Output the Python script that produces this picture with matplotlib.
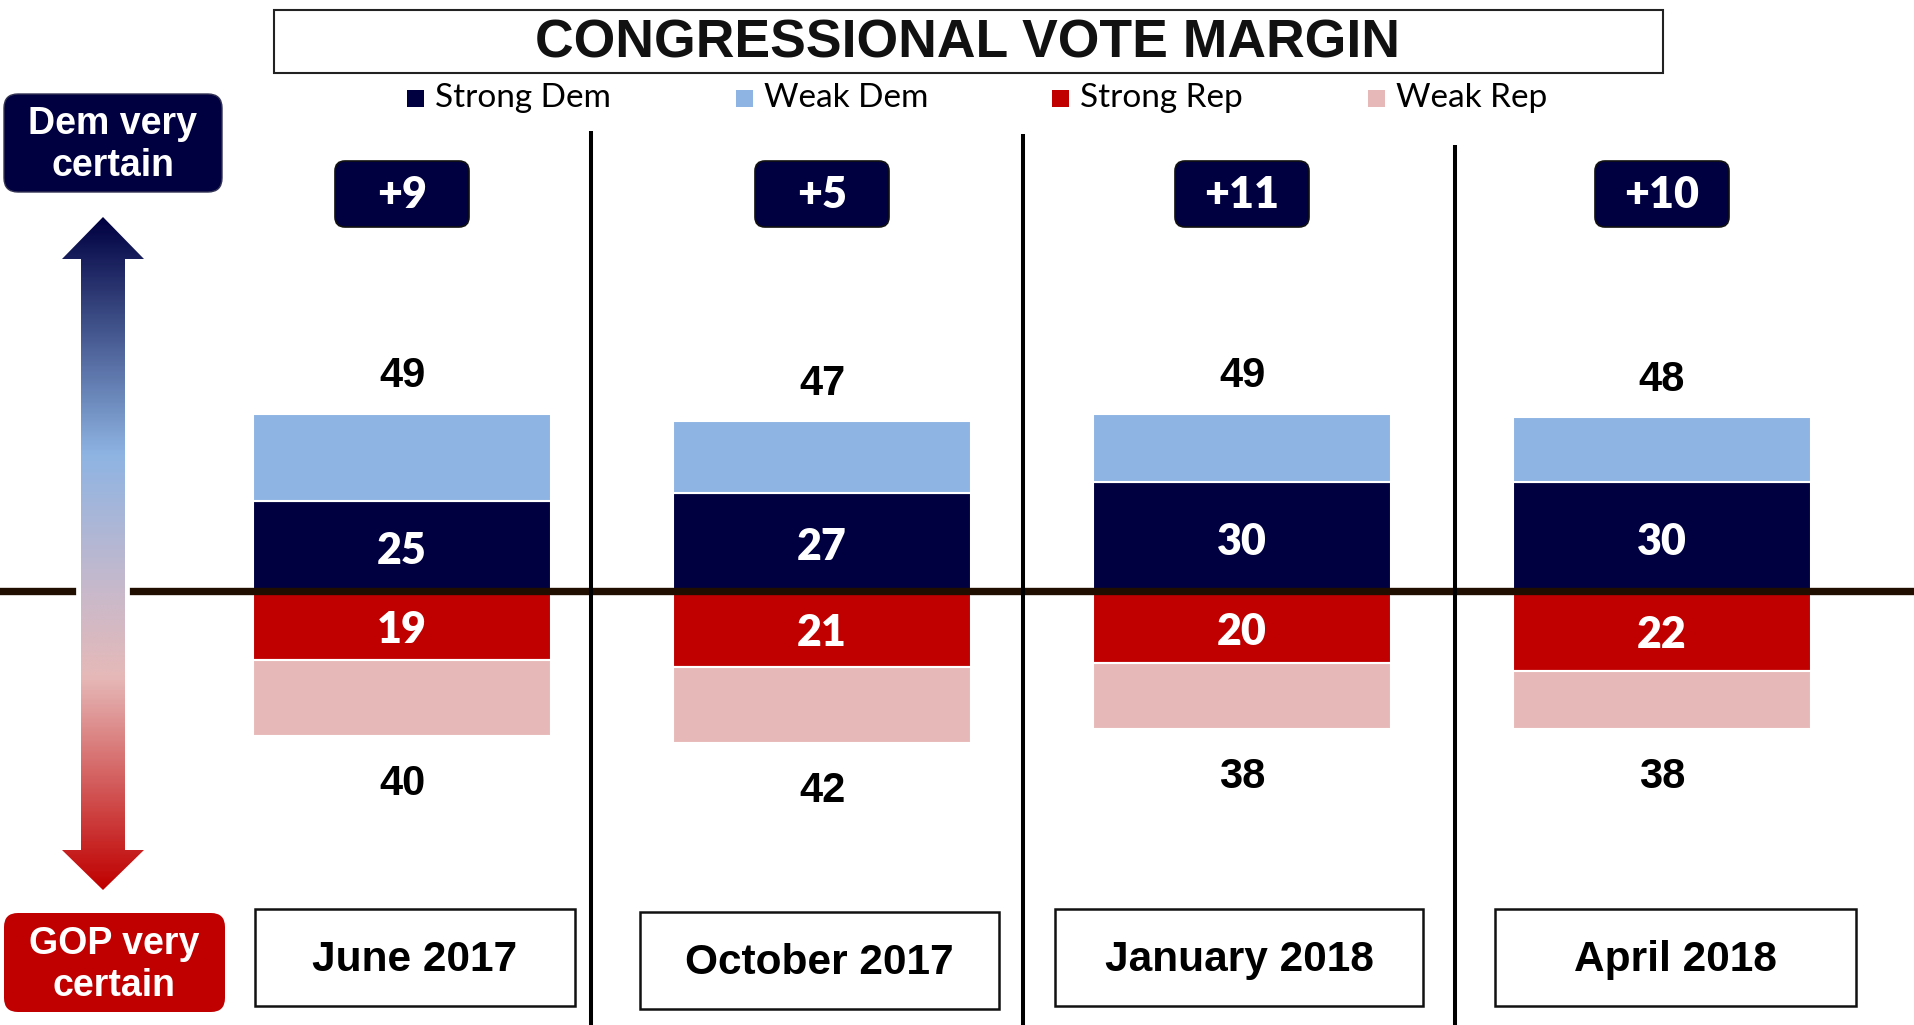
import numpy as np
import matplotlib
matplotlib.use("Agg")
import matplotlib.pyplot as plt
from matplotlib.patches import Rectangle, FancyBboxPatch, Polygon
from matplotlib.colors import LinearSegmentedColormap

# ---------------- data ----------------
periods = ["June 2017", "October 2017", "January 2018", "April 2018"]
strong_dem = [25, 27, 30, 30]
weak_dem = [24, 20, 19, 18]
dem_total = [49, 47, 49, 48]
strong_rep = [19, 21, 20, 22]
weak_rep = [21, 21, 18, 16]
rep_total = [40, 42, 38, 38]
margins = ["+9", "+5", "+11", "+10"]
legend_labels = ["Strong Dem", "Weak Dem", "Strong Rep", "Weak Rep"]
title = "CONGRESSIONAL VOTE MARGIN"
dem_label = "Dem very\ncertain"
gop_label = "GOP very\ncertain"

# ---------------- style ----------------
C_SD, C_WD, C_SR, C_WR = "#000040", "#8EB4E3", "#C00000", "#E6B9B8"
colors = [C_SD, C_WD, C_SR, C_WR]
ARIAL = ["Liberation Sans", "DejaVu Sans"]
CALIBRI = ["Lato", "DejaVu Sans"]

W, H = 1915, 1025
fig = plt.figure(figsize=(W / 100, H / 100), dpi=100)

# main axes: bars in data units
PX = 3.62      # pixels per percentage point
ZERO = 591     # pixel row of zero line
X0, STEP = 402, 420
ax = fig.add_axes([0, 0, 1, 1])
x = np.arange(len(periods))
bw = 298 / STEP
sd = np.array(strong_dem); wd = np.array(weak_dem)
sr = np.array(strong_rep); wr = np.array(weak_rep)
ax.bar(x, sd, width=bw, color=C_SD, edgecolor="white", linewidth=1.5, zorder=2)
ax.bar(x, wd, bottom=sd, width=bw, color=C_WD, edgecolor="white", linewidth=1.5, zorder=2)
ax.bar(x, -sr, width=bw, color=C_SR, edgecolor="white", linewidth=1.5, zorder=2)
ax.bar(x, -wr, bottom=-sr, width=bw, color=C_WR, edgecolor="white", linewidth=1.5, zorder=2)
ax.set_xlim((0 - X0) / STEP, (W - X0) / STEP)
ax.set_ylim(-(H - ZERO) / PX, ZERO / PX)
ax.axis("off")
ax.axhline(0, color="#200F00", lw=5.3, zorder=5)

for i in range(len(periods)):
    ax.text(i, sd[i] / 2 - 1.4, str(sd[i]), ha="center", va="center", color="white",
            family=CALIBRI, weight="heavy", fontsize=31, zorder=6)
    ax.text(i, -sr[i] / 2 - 1.2, str(sr[i]), ha="center", va="center", color="white",
            family=CALIBRI, weight="heavy", fontsize=31, zorder=6)
    ax.text(i, dem_total[i] + 10.3, str(dem_total[i]), ha="center", va="center",
            color="black", family=ARIAL, weight="bold", fontsize=30, zorder=6)
    ax.text(i, -(rep_total[i] + 13.3), str(rep_total[i]), ha="center", va="center",
            color="black", family=ARIAL, weight="bold", fontsize=30, zorder=6)

# overlay axes in pixel coordinates for decorations
ov = fig.add_axes([0, 0, 1, 1], zorder=10)
ov.set_xlim(0, W)
ov.set_ylim(H, 0)
ov.axis("off")

# title
ov.add_patch(Rectangle((274, 10), 1389, 63, fill=False, edgecolor="#222222", lw=1.5))
ov.text(968, 44, title, ha="center", va="center", family=ARIAL, weight="bold",
        fontsize=38.5, color="#111111")

# legend
leg_x = [407, 736, 1052, 1368]
for lx, lab, c in zip(leg_x, legend_labels, colors):
    ov.add_patch(Rectangle((lx, 98 - 8.5), 17, 17, facecolor=c, edgecolor="none"))
    ov.text(lx + 28, 98, lab, ha="left", va="center", family=CALIBRI, fontsize=24,
            color="black")

# separators
for sx, top in zip([591, 1023, 1455], [131, 134, 145]):
    ov.plot([sx, sx], [top, H], color="black", lw=2.9, solid_capstyle="butt")

# side labels
ov.add_patch(FancyBboxPatch((4, 94), 218, 98, boxstyle="round,pad=0,rounding_size=14",
                            facecolor=C_SD, edgecolor="#333355", lw=1))
ov.text(113, 145, dem_label, ha="center", va="center", color="white", family=ARIAL,
        weight="bold", fontsize=27, linespacing=1.2)
ov.add_patch(FancyBboxPatch((4, 913), 221, 99, boxstyle="round,pad=0,rounding_size=14",
                            facecolor=C_SR, edgecolor="none"))
ov.text(114, 965, gop_label, ha="center", va="center", color="white", family=ARIAL,
        weight="bold", fontsize=27, linespacing=1.2)

# gradient arrow
cx = 103
pts = [(cx, 217), (144, 259), (125, 259), (125, 850), (144, 850), (cx, 890),
       (62, 850), (81, 850), (81, 259), (62, 259)]
ov.add_patch(Polygon(pts, closed=True, facecolor="white", edgecolor="white", lw=7, zorder=3))
clip = Polygon(pts, closed=True, facecolor="none", edgecolor="none", transform=ov.transData)
ov.add_patch(clip)
cmap = LinearSegmentedColormap.from_list(
    "arr", [(0.0, "#000040"), (0.352, "#8EB4E3"), (0.556, "#C8B9CB"),
            (0.685, "#E6B9B8"), (1.0, "#C00000")])
grad = np.linspace(0, 1, 400).reshape(-1, 1)
im = ov.imshow(grad, cmap=cmap, aspect="auto", extent=(60, 146, 890, 217),
               origin="upper", zorder=4, interpolation="bilinear")
im.set_clip_path(clip)
ov.set_xlim(0, W)
ov.set_ylim(H, 0)

# margin boxes
for i, m in enumerate(margins):
    mx = X0 + STEP * i
    ov.add_patch(FancyBboxPatch((mx - 67, 194 - 33), 134, 66,
                                boxstyle="round,pad=0,rounding_size=10",
                                facecolor=C_SD, edgecolor="#111111", lw=1.2))
    ov.text(mx, 195, m, ha="center", va="center", color="white", family=CALIBRI,
            weight="heavy", fontsize=31)

# date boxes
box_l = [255, 640, 1055, 1495]
box_w = [320, 359, 368, 361]
box_t = [909, 912, 909, 909]
for l, w, t, p in zip(box_l, box_w, box_t, periods):
    ov.add_patch(Rectangle((l, t), w, 97, fill=False, edgecolor="#111111", lw=1.8))
    ov.text(l + w / 2, t + 51, p, ha="center", va="center", family=ARIAL,
            weight="bold", fontsize=30.5, color="black")

fig.savefig("out.png", dpi=100, facecolor="white")
